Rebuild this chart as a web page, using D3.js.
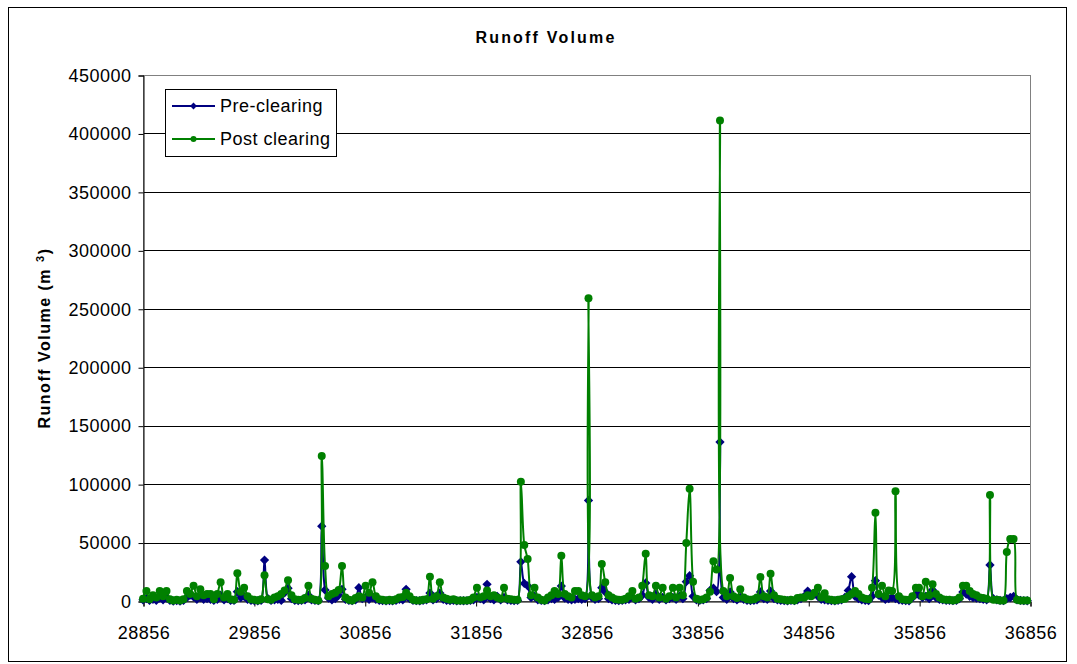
<!DOCTYPE html>
<html>
<head>
<meta charset="utf-8">
<script src="https://cdn.jsdelivr.net/npm/d3@7"></script>
<style>
  body { margin: 0; background: #fff; }
  svg text { font-family: "Liberation Sans", Arial, sans-serif; fill: #000; }
</style>
</head>
<body>
<div id="chart"></div>
<script>
(function () {
"use strict";

// monthly records, Jan 1979 .. Nov 2000 (one row per year)
var firstMonth = "1979-01",
    lastMonth = "2000-11";

var preClearing = [
    1000, 2000, 500, 1500, 500, 2500, 1000, 2500, 500, 0, 300, 0,
    500, 3000, 5000, 3500, 1500, 3000, 1500, 2000, 1500, 500, 1500, 5000,
    1000, 2000, 500, 500, 8000, 3000, 4000, 1500, 500, 300, 200, 500,
    35000, 2000, 500, 1000, 1500, 500, 7000, 11000, 2000, 500, 300, 500,
    1000, 5000, 1000, 500, 300, 64000, 9400, 2500, 1000, 2000, 5000, 10000,
    1500, 500, 300, 1000, 11400, 2000, 3000, 1500, 3000, 1500, 500, 300,
    200, 300, 200, 500, 1500, 1000, 10000, 2000, 500, 300, 200, 500,
    1000, 6800, 1000, 2000, 6800, 1500, 500, 300, 500, 200, 300, 200,
    300, 500, 1000, 3000, 2000, 1000, 14300, 2000, 1000, 4000, 1000, 3000,
    1000, 500, 300, 500, 33500, 15000, 13000, 3000, 4000, 1000, 500, 300,
    1000, 2000, 1500, 3000, 12800, 2500, 1500, 1000, 1500, 2000, 1500, 2000,
    86000, 3000, 1500, 2000, 11400, 7700, 2000, 1000, 500, 300, 500, 1000,
    1500, 3000, 1000, 2000, 5000, 15400, 3000, 1500, 6000, 1500, 3000, 1000,
    2000, 3000, 1500, 4000, 2000, 16500, 21600, 4000, 1000, 500, 1000, 2000,
    9000, 11000, 8000, 136000, 3000, 1500, 7700, 2000, 1000, 3000, 1500, 500,
    300, 500, 1000, 7700, 2000, 1500, 8500, 2000, 1000, 500, 300, 200,
    500, 300, 1000, 2000, 4000, 8500, 5000, 6000, 4000, 1500, 1000, 500,
    300, 200, 500, 1000, 3000, 9000, 20800, 4000, 2000, 1000, 500, 300,
    4000, 17400, 5000, 3000, 1500, 2000, 3000, 2000, 1000, 500, 300, 200,
    3000, 6000, 5000, 3000, 4000, 2000, 9400, 3000, 1500, 1000, 500, 500,
    300, 500, 2000, 7700, 6000, 4000, 3000, 2500, 2000, 1500, 1000, 30800,
    2000, 1000, 500, 300, 2000, 3000, 4000, 1000, 500, 300, 200
];

var postClearing = [
    2000, 8500, 1500, 5000, 3000, 8500, 4000, 8500, 1500, 500, 1000, 500,
    1500, 8500, 6000, 13000, 4000, 10000, 5000, 6000, 6000, 1500, 6000, 16000,
    3000, 6000, 1500, 1000, 23700, 8000, 11400, 4000, 1500, 1000, 500, 1500,
    22000, 1500, 1000, 3000, 4000, 6000, 9000, 17700, 5000, 1500, 1000, 1000,
    2500, 13000, 2000, 1000, 500, 124000, 30000, 4000, 6000, 7000, 9400, 30000,
    3000, 1000, 500, 2500, 4000, 3000, 13000, 7000, 16000, 4000, 1500, 1000,
    500, 1000, 500, 1500, 3000, 3500, 7000, 4000, 1000, 500, 500, 1000,
    1500, 20800, 2000, 4000, 16000, 3000, 2000, 1000, 1500, 500, 500, 500,
    500, 1000, 3000, 11400, 3000, 4000, 9000, 4000, 5000, 3000, 2000, 11400,
    2000, 1500, 1000, 1000, 102000, 48000, 36000, 5000, 11400, 3000, 1000, 500,
    3000, 5000, 8500, 6000, 38800, 6000, 4000, 3000, 8500, 8500, 5000, 4000,
    259000, 5000, 3000, 4000, 31600, 16000, 5000, 3000, 1500, 1000, 1000, 2000,
    4000, 8500, 2000, 3000, 13000, 40500, 5000, 4000, 13000, 3000, 11400, 2000,
    4000, 11400, 3000, 11400, 5000, 49600, 96000, 16500, 2000, 1000, 1500, 3000,
    8000, 34000, 27000, 411000, 8500, 4000, 19600, 4000, 2500, 10000, 3000, 1500,
    1000, 1500, 3000, 20500, 4000, 3000, 23400, 5000, 2000, 1500, 1000, 500,
    1000, 500, 2500, 3000, 3000, 5000, 4000, 7000, 11400, 3000, 6600, 1500,
    1000, 500, 1000, 1500, 2000, 4000, 6000, 8500, 6000, 3000, 2000, 1500,
    11400, 75500, 6000, 13000, 4000, 9000, 8500, 93800, 4000, 1500, 1000, 1000,
    4000, 11400, 11400, 4000, 16500, 5000, 14300, 6000, 3000, 1500, 1000, 1000,
    500, 1000, 3000, 13000, 13000, 8500, 6000, 5000, 3000, 2500, 2000, 90700,
    1000, 1000, 500, 500, 42000, 53000, 53000, 1000, 500, 500, 500
];

var xTicks = [28856, 29856, 30856, 31856, 32856, 33856, 34856, 35856, 36856];
var yTicks = [0, 50000, 100000, 150000, 200000, 250000, 300000, 350000, 400000, 450000];
var seriesNames = ["Pre-clearing", "Post clearing"];

var width = 1077,
    height = 664,
    navy = "#000080",
    green = "#008000";

var plotLeft = 143,
    plotRight = 1030,
    plotTop = 75,
    plotBottom = 601;

// excel serial day numbers for each month
var parseMonth = d3.utcParse("%Y-%m");
var excelEpoch = Date.UTC(1899, 11, 30);
var months = d3.utcMonth.range(parseMonth(firstMonth), d3.utcDay.offset(parseMonth(lastMonth), 1));
var serials = months.map(function (d) { return Math.round((d - excelEpoch) / 864e5); });

var x = d3.scaleLinear()
    .domain([xTicks[0], xTicks[xTicks.length - 1]])
    .range([plotLeft, plotRight]);

var y = d3.scaleLinear()
    .domain([0, 450000])
    .range([plotBottom, plotTop]);

var svg = d3.select("#chart").append("svg")
    .attr("width", width)
    .attr("height", height);

svg.append("rect")
    .attr("width", width)
    .attr("height", height)
    .attr("fill", "#fff");

// outer chart frame
svg.append("rect")
    .attr("x", 8.5)
    .attr("y", 7.5)
    .attr("width", 1058)
    .attr("height", 654)
    .attr("fill", "none")
    .attr("stroke", "#000")
    .attr("stroke-width", 1);

// title
svg.append("text")
    .attr("x", 546)
    .attr("y", 43)
    .attr("text-anchor", "middle")
    .attr("font-size", "16px")
    .attr("font-weight", "bold")
    .attr("letter-spacing", "2.2px")
    .text("Runoff Volume");

// gridlines
svg.append("g")
    .selectAll("line")
    .data(yTicks.slice(1, -1))
    .enter().append("line")
    .attr("x1", plotLeft)
    .attr("x2", plotRight)
    .attr("y1", function (d) { return Math.round(y(d)) + 0.5; })
    .attr("y2", function (d) { return Math.round(y(d)) + 0.5; })
    .attr("stroke", "#000")
    .attr("stroke-width", 1);

// plot area border (grey)
svg.append("rect")
    .attr("x", plotLeft + 0.5)
    .attr("y", plotTop + 0.5)
    .attr("width", plotRight - plotLeft)
    .attr("height", plotBottom - plotTop)
    .attr("fill", "none")
    .attr("stroke", "#808080")
    .attr("stroke-width", 1);

// axes
var yAxis = svg.append("g")
    .attr("transform", "translate(" + (plotLeft + 0.5) + ",0.5)")
    .call(d3.axisLeft(y).tickValues(yTicks).tickSize(5).tickPadding(7).tickFormat(d3.format("d")));

var xAxis = svg.append("g")
    .attr("transform", "translate(0.5," + (plotBottom + 0.5) + ")")
    .call(d3.axisBottom(x).tickValues(xTicks).tickSize(5).tickPadding(26).tickFormat(d3.format("d")));

[yAxis, xAxis].forEach(function (ax) {
    ax.select(".domain").attr("stroke", "#000");
    ax.selectAll(".tick line").attr("stroke", "#000");
    ax.selectAll(".tick text")
        .attr("font-family", "Liberation Sans, Arial, sans-serif")
        .attr("font-size", "18px")
        .attr("letter-spacing", "0.5px")
        .attr("fill", "#000");
});
xAxis.selectAll(".tick text").attr("dy", "0.35em");

// y axis title
var yTitle = svg.append("text")
    .attr("transform", "translate(50,338) rotate(-90)")
    .attr("text-anchor", "middle")
    .attr("font-size", "16px")
    .attr("font-weight", "bold")
    .attr("letter-spacing", "1.5px");
yTitle.append("tspan").text("Runoff Volume (m ");
yTitle.append("tspan").attr("font-size", "11px").attr("dy", "-6").text("3");
yTitle.append("tspan").attr("dy", "6").text(")");

// series (smoothed lines like the spreadsheet)
var line = d3.line()
    .curve(d3.curveCatmullRom.alpha(0.5))
    .x(function (d) { return x(d[0]); })
    .y(function (d) { return y(d[1]); });

var preData = serials.map(function (s, i) { return [s, preClearing[i]]; });
var postData = serials.map(function (s, i) { return [s, postClearing[i]]; });

var diamond = d3.symbol().type(d3.symbolDiamond2);

function drawSeries(data, color, kind) {
    var g = svg.append("g");
    g.append("path")
        .datum(data)
        .attr("fill", "none")
        .attr("stroke", color)
        .attr("stroke-width", 2)
        .attr("stroke-linejoin", "round")
        .attr("d", line);
    if (kind === "diamond") {
        g.selectAll("path.mark")
            .data(data)
            .enter().append("path")
            .attr("class", "mark")
            .attr("transform", function (d) { return "translate(" + x(d[0]) + "," + y(d[1]) + ")"; })
            .attr("d", diamond.size(55))
            .attr("fill", color);
    } else {
        g.selectAll("circle")
            .data(data)
            .enter().append("circle")
            .attr("cx", function (d) { return x(d[0]); })
            .attr("cy", function (d) { return y(d[1]); })
            .attr("r", 4)
            .attr("fill", color);
    }
}

drawSeries(preData, navy, "diamond");
drawSeries(postData, green, "circle");

// legend
var legend = svg.append("g");
legend.append("rect")
    .attr("x", 165.5)
    .attr("y", 89.5)
    .attr("width", 171)
    .attr("height", 67)
    .attr("fill", "#fff")
    .attr("stroke", "#000")
    .attr("stroke-width", 1);

var legendRows = [
    { name: seriesNames[0], color: navy, kind: "diamond", cy: 106 },
    { name: seriesNames[1], color: green, kind: "circle", cy: 139 }
];

legendRows.forEach(function (r) {
    legend.append("line")
        .attr("x1", 172)
        .attr("x2", 215)
        .attr("y1", r.cy)
        .attr("y2", r.cy)
        .attr("stroke", r.color)
        .attr("stroke-width", 2);
    if (r.kind === "diamond") {
        legend.append("path")
            .attr("transform", "translate(193.5," + r.cy + ")")
            .attr("d", diamond.size(30))
            .attr("fill", r.color);
    } else {
        legend.append("circle")
            .attr("cx", 193.5)
            .attr("cy", r.cy)
            .attr("r", 3)
            .attr("fill", r.color);
    }
    legend.append("text")
        .attr("x", 220)
        .attr("y", r.cy + 6)
        .attr("font-size", "18px")
        .attr("letter-spacing", "0.5px")
        .text(r.name);
});

})();
</script>
</body>
</html>
